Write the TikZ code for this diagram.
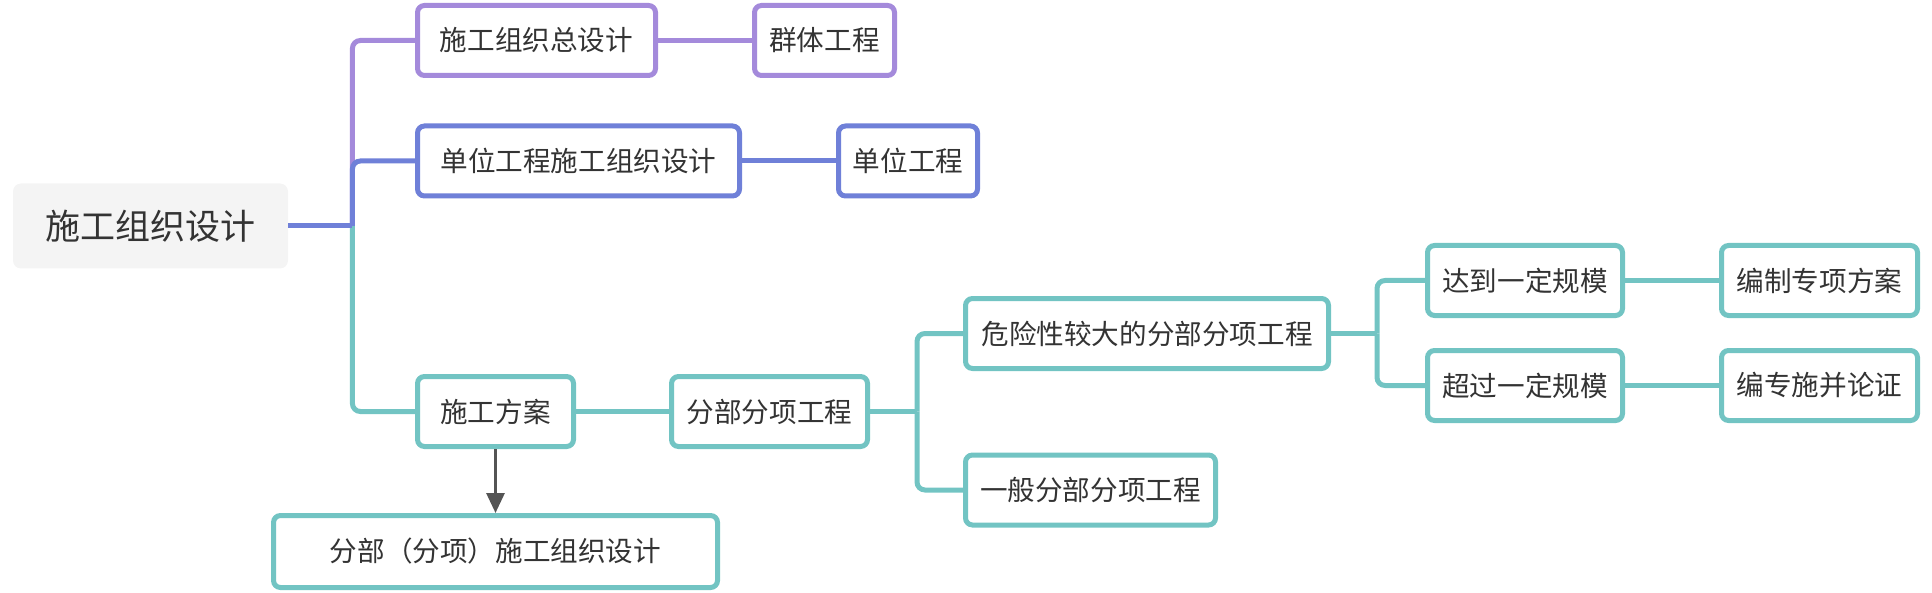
\documentclass[tikz,border=0pt]{standalone}
\usepackage{fontspec}
\newfontfamily\cjk{Noto Sans CJK SC}
\usetikzlibrary{arrows.meta}

\definecolor{purp}{HTML}{A48ADB}
\definecolor{blu}{HTML}{6F80D8}
\definecolor{tea}{HTML}{72C4C3}
\definecolor{txt}{HTML}{333333}
\definecolor{rootbg}{HTML}{F4F4F4}

\begin{document}
\begin{tikzpicture}[x=0.5pt, y=-0.5pt,
  every node/.style={font=\cjk\fontsize{13.8}{16}\selectfont, text=txt},
  topic/.style={draw, rounded corners=3.5pt, line width=2.5pt, fill=white, minimum height=35pt, inner sep=0pt},
  branch/.style={line width=2.5pt, rounded corners=4pt}]

\useasboundingbox (0,0) rectangle (1932,593);

% root
\node[fill=rootbg, rounded corners=4pt, minimum width=137.5pt, minimum height=42.5pt, inner sep=0pt,
      font=\cjk\fontsize{17.5}{20}\selectfont] (root) at (150.5,226) {施工组织设计};

% purple branch
\node[topic, draw=purp, minimum width=119pt] (zsj) at (536.5,40.5) {施工组织总设计};
\node[topic, draw=purp, minimum width=70pt] (qt) at (824.5,40.5) {群体工程};

% blue branch
\node[topic, draw=blu, minimum width=161pt] (dwsj) at (578.5,161) {单位工程施工组织设计};
\node[topic, draw=blu, minimum width=69.5pt] (dw) at (908,161) {单位工程};

% teal branch
\node[topic, draw=tea, minimum width=78pt] (fa) at (495.5,411.5) {施工方案};
\node[topic, draw=tea, minimum width=98pt] (fbfx) at (769.5,411.5) {分部分项工程};
\node[topic, draw=tea, minimum width=181.5pt] (wx) at (1147,333.5) {危险性较大的分部分项工程};
\node[topic, draw=tea, minimum width=125pt] (yb) at (1090.5,490) {一般分部分项工程};
\node[topic, draw=tea, minimum width=97.5pt] (dd) at (1525,280.5) {达到一定规模};
\node[topic, draw=tea, minimum width=98pt] (bz) at (1819.5,280.5) {编制专项方案};
\node[topic, draw=tea, minimum width=97.5pt] (cg) at (1525,385.5) {超过一定规模};
\node[topic, draw=tea, minimum width=98pt] (lz) at (1819.5,385.5) {编专施并论证};
\node[topic, draw=tea, minimum width=222pt, minimum height=36pt] (fbsj) at (495.5,551.5) {分部（分项）施工组织设计};

% fork points
\coordinate (k0) at ([xshift=32pt]root.east);
\coordinate (k1) at ([xshift=23.5pt]fbfx.east);
\coordinate (k2) at ([xshift=23pt]wx.east);

% connectors
\draw[branch, purp] (k0) |- (zsj.west);
\draw[branch, purp] (zsj) -- (qt);
\draw[branch, tea] (k0) |- (fa.west);
\draw[branch, blu] (k0) |- (dwsj.west);
\draw[branch, blu] (root.east) -- (k0);
\draw[branch, blu] (dwsj) -- (dw);

\draw[branch, tea] (fa) -- (fbfx);
\draw[branch, tea] (fbfx.east) -- (k1);
\draw[branch, tea] (k1) |- (wx.west);
\draw[branch, tea] (k1) |- (yb.west);
\draw[branch, tea] (wx.east) -- (k2);
\draw[branch, tea] (k2) |- (dd.west);
\draw[branch, tea] (k2) |- (cg.west);
\draw[branch, tea] (dd) -- (bz);
\draw[branch, tea] (cg) -- (lz);

% arrow down
\draw[line width=1.5pt, black!67, -{Triangle[length=10pt, width=9pt]}] (fa.south) -- (fbsj.north);

\end{tikzpicture}
\end{document}
